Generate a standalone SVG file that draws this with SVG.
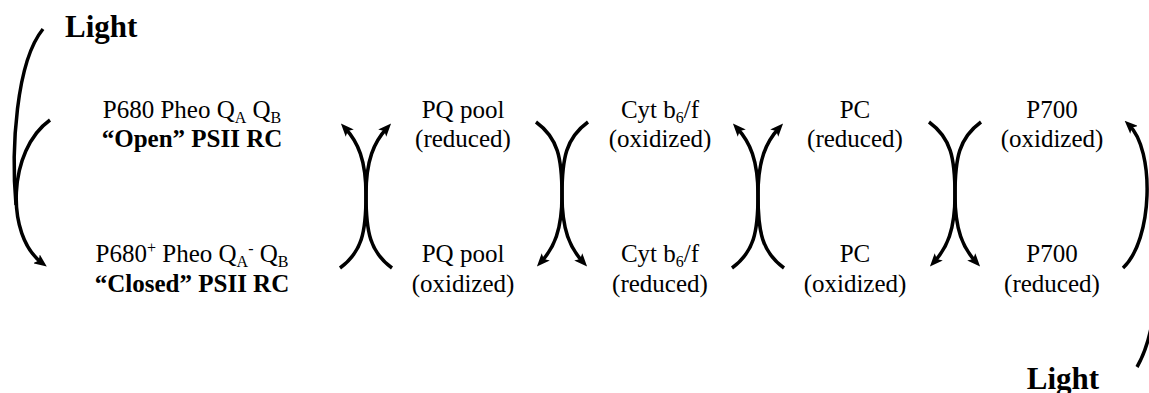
<svg xmlns="http://www.w3.org/2000/svg" width="1149" height="393" viewBox="0 0 1149 393">
<style>
.t{font-family:"Liberation Serif","Times New Roman",serif;font-size:25px;fill:#000;text-anchor:middle}
.b{font-weight:bold}
.sub{font-size:16px}
.lt{font-family:"Liberation Serif","Times New Roman",serif;font-size:31px;font-weight:bold;fill:#000}
.c{fill:none;stroke:#000;stroke-width:3.5;stroke-linecap:butt}
.a{marker-end:url(#ah)}
</style>
<defs>
<marker id="ah" viewBox="0 0 13 11" refX="7" refY="5.5" markerWidth="13" markerHeight="11" markerUnits="userSpaceOnUse" orient="auto">
<path d="M0,0 L13,5.5 L0,11 L3,5.5 z" fill="#000"/>
</marker>
</defs>
<g id="light-top"><text class="lt" x="65" y="37">Light</text></g>
<g id="light-bottom"><text class="lt" x="1063" y="389" text-anchor="middle">Light</text></g>
<g id="psii-open"><text class="t" x="192" y="118">P680 Pheo Q<tspan class="sub" dy="5">A</tspan><tspan dy="-5"> Q</tspan><tspan class="sub" dy="5">B</tspan></text><text class="t b" x="192" y="147">“Open” PSII RC</text></g>
<g id="psii-closed"><text class="t" x="192" y="262">P680<tspan class="sub" dy="-9">+</tspan><tspan dy="9"> Pheo Q</tspan><tspan class="sub" dy="5">A</tspan><tspan class="sub" dy="-13">-</tspan><tspan dy="8"> Q</tspan><tspan class="sub" dy="5">B</tspan></text><text class="t b" x="192" y="292">“Closed” PSII RC</text></g>
<g id="pq-reduced"><text class="t" x="463" y="118">PQ pool</text><text class="t" x="463" y="147">(reduced)</text></g>
<g id="pq-oxidized"><text class="t" x="463" y="262">PQ pool</text><text class="t" x="463" y="292">(oxidized)</text></g>
<g id="cyt-oxidized"><text class="t" x="660" y="118">Cyt b<tspan class="sub" dy="5">6</tspan><tspan dy="-5">/f</tspan></text><text class="t" x="660" y="147">(oxidized)</text></g>
<g id="cyt-reduced"><text class="t" x="660" y="262">Cyt b<tspan class="sub" dy="5">6</tspan><tspan dy="-5">/f</tspan></text><text class="t" x="660" y="292">(reduced)</text></g>
<g id="pc-reduced"><text class="t" x="855" y="118">PC</text><text class="t" x="855" y="147">(reduced)</text></g>
<g id="pc-oxidized"><text class="t" x="855" y="262">PC</text><text class="t" x="855" y="292">(oxidized)</text></g>
<g id="p700-oxidized"><text class="t" x="1052" y="118">P700</text><text class="t" x="1052" y="147">(oxidized)</text></g>
<g id="p700-reduced"><text class="t" x="1052" y="262">P700</text><text class="t" x="1052" y="292">(reduced)</text></g>
<g id="connectors">
<path class="c" d="M43,29 C16,62 11,150 16,205"/>
<path class="c a" d="M50,120 C8,150 5,235 42,263"/>
<path class="c a" d="M1123,268 C1153,240 1155,150 1129,125"/>
<path class="c" d="M1137,367 C1150,345 1160,300 1156,250"/>
<g transform="translate(366,0)">
<path class="c a" d="M-26,268 C-4,252 0,232 0,195 C0,160 -8,142 -21,128"/>
<path class="c a" d="M26,268 C4,252 0,232 0,195 C0,160 8,142 21,128"/>
</g>
<g transform="translate(562,0)">
<path class="c a" d="M-26,122 C-4,138 0,158 0,195 C0,230 -8,248 -21,262"/>
<path class="c a" d="M26,122 C4,138 0,158 0,195 C0,230 8,248 21,262"/>
</g>
<g transform="translate(758,0)">
<path class="c a" d="M-26,268 C-4,252 0,232 0,195 C0,160 -8,142 -21,128"/>
<path class="c a" d="M26,268 C4,252 0,232 0,195 C0,160 8,142 21,128"/>
</g>
<g transform="translate(955,0)">
<path class="c a" d="M-26,122 C-4,138 0,158 0,195 C0,230 -8,248 -21,262"/>
<path class="c a" d="M26,122 C4,138 0,158 0,195 C0,230 8,248 21,262"/>
</g>
</g>
</svg>
